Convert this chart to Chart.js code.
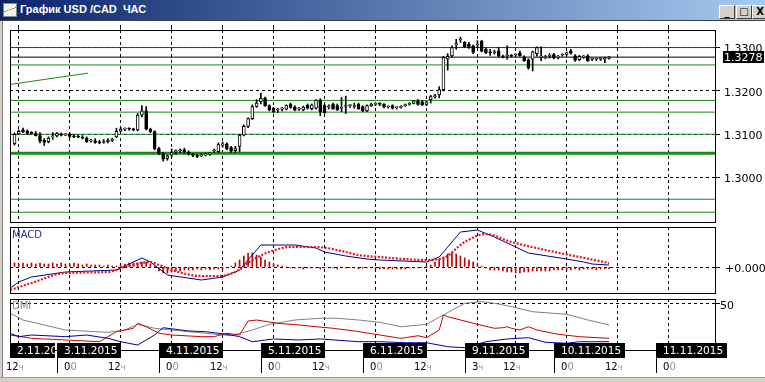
<!DOCTYPE html>
<html>
<head>
<meta charset="utf-8">
<title>График USD /CAD ЧАС</title>
<script src="https://cdn.jsdelivr.net/npm/chart.js@4.4.1/dist/chart.umd.min.js"></script>
<style>
  html, body { margin: 0; padding: 0; }
  body { width: 765px; height: 382px; overflow: hidden; position: relative; background: #fff; font-family: "DejaVu Sans", sans-serif; }
  .abs { position: absolute; }
  #titlebar { left: 0; top: 0; width: 765px; height: 20px; background: linear-gradient(to right, #0a246a, #a6caf0); }
  #titleline { left: 0; top: 20px; width: 765px; height: 1px; background: #404040; }
  #icon { left: 3px; top: 3px; width: 14px; height: 14px; box-sizing: border-box; border: 1px solid #8a8a8a;
          background: linear-gradient(160deg, #f4f4ee 45%, #d04040 47%, #f4f4ee 52%); }
  #caption { left: 20px; top: 3px; color: #fff; font: bold 11px "Liberation Sans", Arial, sans-serif; white-space: pre; }
  .tbtn { top: 5px; width: 16px; height: 14px; box-sizing: border-box; background: #d4d0c8; border: 1px solid;
          border-color: #fff #404040 #404040 #fff; color: #000; font: bold 10px "DejaVu Sans"; line-height: 11px; text-align: center; }
  #lborder { left: 0; top: 21px; width: 3px; height: 361px; background: linear-gradient(to right, #d4d0c8 0 2px, #808080 2px 3px); }
  #bottomStrip { left: 0; top: 377px; width: 765px; height: 5px; background: #d4d0c8; border-top: 1px solid #a0a0a0; }
  .panelLabel { font-size: 10px; }
  .dbox { position: absolute; top: 343px; height: 15px; box-sizing: border-box; background: #000; color: #fff;
          font: 10.5px "DejaVu Sans"; line-height: 15px; padding: 0 4px 0 7px; white-space: nowrap; overflow: hidden; }
  .dsep { position: absolute; top: 343px; width: 1px; height: 30px; background: #000; }
  .tl { position: absolute; top: 361px; font: 10px "DejaVu Sans"; color: #000; white-space: nowrap; }
  .tl span { color: #909090; }
  .tl span.u { font-size: 8px; }
</style>
</head>
<body>
<div id="titlebar" class="abs"></div>
<div id="icon" class="abs"></div>
<div id="caption" class="abs">График USD /CAD  ЧАС</div>
<div class="abs tbtn" style="left:719px">_</div>
<div class="abs tbtn" style="left:736px">□</div>
<div class="abs tbtn" style="left:752px">X</div>
<div id="titleline" class="abs"></div>

<canvas id="mainChart" class="abs" style="left:0;top:22px" width="765" height="203"></canvas>
<canvas id="macdChart" class="abs" style="left:0;top:225px" width="765" height="70"></canvas>
<canvas id="dmiChart" class="abs" style="left:0;top:296px" width="765" height="56"></canvas>

<div class="abs panelLabel" style="left:12px;top:229px;color:#2b2b8f">MACD</div>
<div class="abs panelLabel" style="left:12px;top:300px;color:#8a8a8a">DMI</div>

<div id="lborder" class="abs"></div>
<div id="bottomStrip" class="abs"></div>

<script>
// hourly candles, first one is 2.11 14:00 (hour -10, hour 0 = 3.11 00:00, trading hours only)
const firstHour = -10;

const open = [
  1.3078, 1.3101, 1.3110, 1.3107, 1.3103, 1.3102, 1.3097, 1.3086, 1.3083, 1.3094,
  1.3096, 1.3101, 1.3098, 1.3100, 1.3096, 1.3095, 1.3093, 1.3091, 1.3084, 1.3085,
  1.3082, 1.3081, 1.3083, 1.3086, 1.3094, 1.3107, 1.3112, 1.3113, 1.3112, 1.3110,
  1.3144, 1.3154, 1.3112, 1.3106, 1.3067, 1.3055, 1.3044, 1.3052, 1.3060, 1.3062,
  1.3064, 1.3059, 1.3054, 1.3051, 1.3050, 1.3052, 1.3054, 1.3062, 1.3060, 1.3075,
  1.3078, 1.3069, 1.3062, 1.3072, 1.3098, 1.3118, 1.3136, 1.3164, 1.3175, 1.3183,
  1.3166, 1.3160, 1.3156, 1.3158, 1.3158, 1.3169, 1.3163, 1.3158, 1.3156, 1.3167,
  1.3159, 1.3160, 1.3179, 1.3166, 1.3163, 1.3169, 1.3166, 1.3160, 1.3164, 1.3166,
  1.3164, 1.3169, 1.3164, 1.3154, 1.3166, 1.3169, 1.3170, 1.3169, 1.3163, 1.3166,
  1.3161, 1.3162, 1.3166, 1.3169, 1.3171, 1.3177, 1.3175, 1.3169, 1.3180, 1.3187,
  1.3191, 1.3203, 1.3274, 1.3281, 1.3306, 1.3318, 1.3312, 1.3308, 1.3304, 1.3306,
  1.3315, 1.3296, 1.3289, 1.3288, 1.3292, 1.3279, 1.3280, 1.3281, 1.3283, 1.3288,
  1.3278, 1.3272, 1.3273, 1.3286, 1.3278, 1.3277, 1.3280, 1.3284, 1.3278, 1.3283,
  1.3284, 1.3292, 1.3281, 1.3272, 1.3278, 1.3281, 1.3273, 1.3273, 1.3273, 1.3273,
  1.3275
];
const high = [
  1.3103, 1.3110, 1.3114, 1.3110, 1.3106, 1.3106, 1.3104, 1.3090, 1.3094, 1.3104,
  1.3104, 1.3103, 1.3102, 1.3103, 1.3099, 1.3098, 1.3097, 1.3094, 1.3088, 1.3090,
  1.3086, 1.3088, 1.3090, 1.3091, 1.3114, 1.3116, 1.3115, 1.3115, 1.3114, 1.3148,
  1.3166, 1.3164, 1.3114, 1.3108, 1.3070, 1.3058, 1.3052, 1.3066, 1.3064, 1.3066,
  1.3068, 1.3062, 1.3056, 1.3054, 1.3055, 1.3057, 1.3058, 1.3066, 1.3080, 1.3082,
  1.3080, 1.3072, 1.3072, 1.3100, 1.3122, 1.3138, 1.3168, 1.3180, 1.3195, 1.3186,
  1.3168, 1.3162, 1.3160, 1.3162, 1.3168, 1.3172, 1.3166, 1.3162, 1.3165, 1.3170,
  1.3170, 1.3180, 1.3182, 1.3170, 1.3168, 1.3172, 1.3170, 1.3185, 1.3188, 1.3168,
  1.3172, 1.3172, 1.3166, 1.3168, 1.3172, 1.3172, 1.3173, 1.3171, 1.3166, 1.3168,
  1.3164, 1.3166, 1.3170, 1.3173, 1.3178, 1.3180, 1.3178, 1.3176, 1.3190, 1.3192,
  1.3210, 1.3280, 1.3286, 1.3304, 1.3319, 1.3324, 1.3314, 1.3312, 1.3306, 1.3316,
  1.3317, 1.3299, 1.3296, 1.3294, 1.3300, 1.3283, 1.3304, 1.3284, 1.3286, 1.3292,
  1.3281, 1.3274, 1.3292, 1.3302, 1.3302, 1.3282, 1.3286, 1.3287, 1.3282, 1.3286,
  1.3290, 1.3296, 1.3284, 1.3282, 1.3282, 1.3284, 1.3276, 1.3276, 1.3277, 1.3278,
  1.3280
];
const low = [
  1.3075, 1.3099, 1.3104, 1.3099, 1.3100, 1.3096, 1.3080, 1.3074, 1.3080, 1.3088,
  1.3094, 1.3096, 1.3097, 1.3092, 1.3092, 1.3092, 1.3089, 1.3081, 1.3082, 1.3079,
  1.3078, 1.3079, 1.3080, 1.3083, 1.3092, 1.3105, 1.3108, 1.3109, 1.3108, 1.3108,
  1.3140, 1.3110, 1.3104, 1.3064, 1.3053, 1.3038, 1.3040, 1.3048, 1.3054, 1.3058,
  1.3056, 1.3052, 1.3048, 1.3046, 1.3048, 1.3050, 1.3051, 1.3058, 1.3058, 1.3070,
  1.3064, 1.3058, 1.3058, 1.3060, 1.3096, 1.3115, 1.3134, 1.3162, 1.3170, 1.3164,
  1.3154, 1.3150, 1.3150, 1.3154, 1.3156, 1.3160, 1.3154, 1.3155, 1.3154, 1.3158,
  1.3156, 1.3158, 1.3143, 1.3148, 1.3158, 1.3158, 1.3155, 1.3152, 1.3148, 1.3162,
  1.3160, 1.3158, 1.3152, 1.3152, 1.3164, 1.3166, 1.3166, 1.3161, 1.3160, 1.3158,
  1.3158, 1.3160, 1.3164, 1.3167, 1.3170, 1.3167, 1.3166, 1.3166, 1.3172, 1.3183,
  1.3184, 1.3200, 1.3248, 1.3278, 1.3296, 1.3312, 1.3300, 1.3298, 1.3286, 1.3300,
  1.3290, 1.3286, 1.3282, 1.3285, 1.3278, 1.3276, 1.3273, 1.3278, 1.3280, 1.3280,
  1.3268, 1.3250, 1.3246, 1.3280, 1.3270, 1.3274, 1.3276, 1.3274, 1.3274, 1.3280,
  1.3282, 1.3285, 1.3268, 1.3270, 1.3275, 1.3268, 1.3270, 1.3270, 1.3270, 1.3265,
  1.3273
];
const close = [
  1.3100, 1.3107, 1.3106, 1.3102, 1.3102, 1.3097, 1.3084, 1.3082, 1.3091, 1.3095,
  1.3102, 1.3098, 1.3100, 1.3095, 1.3094, 1.3093, 1.3091, 1.3083, 1.3085, 1.3081,
  1.3080, 1.3083, 1.3086, 1.3088, 1.3107, 1.3112, 1.3113, 1.3112, 1.3110, 1.3144,
  1.3154, 1.3112, 1.3106, 1.3067, 1.3056, 1.3043, 1.3050, 1.3058, 1.3061, 1.3063,
  1.3059, 1.3054, 1.3051, 1.3049, 1.3052, 1.3054, 1.3055, 1.3063, 1.3076, 1.3078,
  1.3067, 1.3061, 1.3067, 1.3098, 1.3118, 1.3136, 1.3164, 1.3172, 1.3183, 1.3166,
  1.3156, 1.3152, 1.3156, 1.3158, 1.3166, 1.3162, 1.3156, 1.3158, 1.3163, 1.3160,
  1.3168, 1.3179, 1.3152, 1.3150, 1.3163, 1.3158, 1.3156, 1.3160, 1.3164, 1.3166,
  1.3166, 1.3158, 1.3154, 1.3166, 1.3169, 1.3170, 1.3169, 1.3163, 1.3163, 1.3160,
  1.3161, 1.3164, 1.3168, 1.3171, 1.3177, 1.3169, 1.3168, 1.3175, 1.3187, 1.3188,
  1.3203, 1.3277, 1.3280, 1.3300, 1.3309, 1.3320, 1.3302, 1.3300, 1.3289, 1.3308,
  1.3292, 1.3288, 1.3288, 1.3289, 1.3281, 1.3278, 1.3281, 1.3280, 1.3283, 1.3281,
  1.3270, 1.3253, 1.3290, 1.3300, 1.3278, 1.3277, 1.3282, 1.3276, 1.3278, 1.3283,
  1.3288, 1.3287, 1.3271, 1.3280, 1.3278, 1.3269, 1.3273, 1.3273, 1.3273, 1.3274,
  1.3278
];
const lastPrice = 1.3278;

// horizontal levels drawn on the price panel
const redLevels = [1.3300];
const blackLevels = [1.3278];
const greenLevels = [1.3260, 1.3178, 1.3151, 1.3100, 1.2950, 1.2920];
const thickGreenLevels = [1.3056];
const trendFrom = [-11.06, 1.3215];
const trendTo = [7.3, 1.3241];

// MACD panel (one histogram bar per candle, lines sampled)
const macdHist = [
  0.0004, 0.0003, 0.0004, 0.0003, 0.0004, 0.0003, 0.0004, 0.0003, 0.0003, 0.0004,
  0.0003, 0.0004, 0.0003, 0.0003, 0.0004, 0.0003, 0.0002, 0.0003, 0.0002, 0.0002,
  0.0002, 0.0001, 0.0002, 0.0001, 0.0001, 0.0002, 0.0003, 0.0004, 0.0004, 0.0004,
  0.0005, 0.0005, 0.0003, 0.0001, -0.0004, -0.0006, -0.0006, -0.0005, -0.0004, -0.0004,
  -0.0003, -0.0003, -0.0003, -0.0002, -0.0003, -0.0002, -0.0003, -0.0002, -0.0002, -0.0002,
  -0.0001, 0.0001, 0.0004, 0.0007, 0.0011, 0.0014, 0.0014, 0.0012, 0.0010, 0.0007,
  0.0005, 0.0003, 0.0002, 0.0001, 0.0000, -0.0001, -0.0001, -0.0001, -0.0002, -0.0001,
  -0.0001, -0.0001, -0.0002, -0.0001, -0.0001, -0.0001, -0.0002, -0.0001, -0.0001, -0.0001,
  -0.0001, -0.0002, -0.0001, -0.0001, -0.0001, -0.0002, -0.0002, -0.0002, -0.0002, -0.0002,
  -0.0002, -0.0002, -0.0002, -0.0001, -0.0001, -0.0001, 0.0000, 0.0001, 0.0002, 0.0005,
  0.0008, 0.0010, 0.0013, 0.0014, 0.0013, 0.0011, 0.0009, 0.0007, 0.0005, 0.0003,
  0.0001, -0.0001, -0.0003, -0.0003, -0.0003, -0.0004, -0.0005, -0.0005, -0.0006, -0.0006,
  -0.0005, -0.0005, -0.0004, -0.0004, -0.0004, -0.0004, -0.0004, -0.0003, -0.0003, -0.0003,
  -0.0003, -0.0003, -0.0002, -0.0003, -0.0002, -0.0002, -0.0002, -0.0003, -0.0002, -0.0002,
  -0.0002
];
const macdAt = [-11, -9, -6, 2, 14, 20, 22, 26, 34, 39, 43, 48, 56, 61, 63, 68, 73, 76, 87, 90, 95, 99, 103, 107, 111, 120, 124, 126, 130];
const macdLine = [-0.0021, -0.0015, -0.0010, -0.0005, -0.0003, 0.0009, 0.0005, -0.0008, -0.0013, -0.0010,
  -0.0003, 0.0022, 0.0022, 0.0019, 0.0015, 0.0011, 0.0008, 0.0007, 0.0005, 0.0010,
  0.0035, 0.0037, 0.0030, 0.0022, 0.0014, 0.0008, 0.0005, 0.0003, 0.0002];
const signalAt = [-11, -6, 2, 12, 16, 22, 24, 27, 34, 38, 42, 46, 50, 55, 61, 67, 71, 76, 87, 91, 96, 101, 107, 115, 123, 130];
const signalLine = [-0.0023, -0.0016, -0.0006, -0.0005, 0.0000, 0.0005, 0.0002, -0.0003, -0.0009, -0.0009,
  -0.0005, 0.0007, 0.0015, 0.0020, 0.0020, 0.0016, 0.0012, 0.0010, 0.0007, 0.0009,
  0.0025, 0.0033, 0.0025, 0.0017, 0.0010, 0.0004];

// DMI panel
const adxAt = [-11, -8, -3, 2, 12, 16, 19, 23, 27, 35, 41, 46, 50, 56, 62, 66, 71, 76, 81, 87, 91, 96, 100, 103, 107, 112, 120, 125, 130];
const adx = [39.9, 32.6, 27.2, 21.7, 19.2, 21.7, 27.9, 23.6, 21.7, 18.2, 15.5, 21.7, 27.9, 32.6, 34.5,
  34.5, 32.6, 30.1, 25.3, 27.9, 38.0, 50.8, 52.5, 50.8, 47.1, 41.6, 38.8, 32.6, 27.2];
const plusAt = [-11, -6, 2, 10, 14, 16, 18, 19, 21, 24, 27, 34, 37, 40, 43, 45, 47, 52, 57, 61,
  65, 70, 76, 81, 85, 87, 90, 91, 92, 99, 103, 105, 106, 107, 109, 111, 113, 118, 123, 130];
const plusDI = [16.3, 12.7, 10.9, 9.0, 19.9, 21.7, 23.6, 29.0, 25.3, 18.2, 16.3, 14.5, 14.5, 18.2, 16.3,
  31.5, 32.6, 29.0, 27.2, 25.3, 23.6, 20.7, 16.3, 12.7, 15.5, 13.4, 21.7, 38.0, 36.2, 27.9,
  23.6, 24.2, 25.3, 23.6, 21.7, 25.3, 21.7, 17.1, 14.5, 12.7];
const minusAt = [-11, -9, -6, 2, 7, 12, 15, 19, 23, 25, 31, 35, 40, 43, 46, 51, 57, 62, 71, 76,
  82, 87, 92, 96, 101, 106, 111, 115, 120, 123, 130];
const minusDI = [18.2, 14.5, 16.3, 14.5, 16.3, 12.7, 9.0, 5.4, 16.3, 24.2, 20.7, 19.9, 17.1, 14.5, 9.0,
  12.0, 10.9, 12.0, 9.0, 9.0, 7.9, 7.9, 3.6, 2.5, 9.0, 12.0, 13.4, 8.4, 7.3, 9.0, 9.0];

// axes
const gridHours = [-9, 3, 15, 27, 39, 51, 63, 75, 87, 99, 108, 120, 132, 144];
const priceTicks = [1.30, 1.31, 1.32, 1.33];
const dayStarts = [-24, 0, 24, 48, 72, 96, 117, 141];
const dayLabels = ['2.11.2015', '3.11.2015', '4.11.2015', '5.11.2015', '6.11.2015', '9.11.2015', '10.11.2015', '11.11.2015'];
const timeAt = [-12, 0, 12, 24, 36, 48, 60, 72, 84, 96, 105, 117, 129, 141];
const timeText = ['12ч', '00', '12ч', '00', '12ч', '00', '12ч', '00', '12ч', '3ч', '12ч', '00', '12ч', '00'];

const X_MIN = -11.06, X_MAX = 154.94;

Chart.defaults.font.family = 'DejaVu Sans';
Chart.defaults.animation = false;

const hours = open.map((_, i) => firstHour + i);
const pts = (xs, ys) => xs.map((x, i) => ({ x: x, y: ys[i] }));

function levelLine(price, color, width) {
  return {
    type: 'line', order: 3, data: [{ x: X_MIN, y: price }, { x: X_MAX, y: price }],
    borderColor: color, borderWidth: width, pointRadius: 0
  };
}

const framePlugin = {
  id: 'frame',
  afterDatasetsDraw(chart) {
    const { ctx, chartArea: a } = chart;
    ctx.save();
    ctx.strokeStyle = '#000';
    ctx.lineWidth = 1;
    ctx.strokeRect(Math.round(a.left) + 0.5, Math.round(a.top) + 0.5, Math.round(a.right - a.left), Math.round(a.bottom - a.top));
    ctx.restore();
  }
};

const lastPricePlugin = {
  id: 'lastPrice',
  afterDraw(chart) {
    const s = chart.scales.y;
    const y = Math.round(s.getPixelForValue(lastPrice));
    const ctx = chart.ctx;
    ctx.save();
    ctx.fillStyle = '#000';
    ctx.fillRect(s.left + 8, y - 6, 41, 12);
    ctx.fillStyle = '#fff';
    ctx.font = '11px "DejaVu Sans"';
    ctx.textBaseline = 'middle';
    ctx.fillText(lastPrice.toFixed(4), s.left + 9, y + 1);
    ctx.restore();
  }
};

function xScale(onTop) {
  return {
    type: 'linear', min: X_MIN, max: X_MAX, offset: false,
    position: onTop ? 'top' : 'bottom',
    ticks: { display: false },
    grid: { color: '#000', lineWidth: 1, offset: false, drawTicks: onTop, tickLength: 5 },
    border: { display: false, dash: [3, 3] },
    afterBuildTicks: s => { s.ticks = gridHours.map(v => ({ value: v })); },
    afterFit: s => {
      s.height = onTop ? 5 : 0;
      s.paddingLeft = 0; s.paddingRight = 0; s.paddingTop = 0; s.paddingBottom = 0;
    }
  };
}

function yScale(min, max, ticks, fmt, padding) {
  return {
    position: 'right', min: min, max: max,
    afterBuildTicks: s => { s.ticks = ticks.map(v => ({ value: v })); },
    afterFit: s => {
      s.width = 50;
      s.paddingTop = 0; s.paddingBottom = 0; s.paddingLeft = 0; s.paddingRight = 0;
    },
    ticks: { color: '#000', font: { size: 11 }, padding: padding, labelOffset: 2, callback: fmt },
    grid: { color: '#000', lineWidth: 1, tickLength: 5 },
    border: { display: false, dash: [3, 3] }
  };
}

const common = {
  responsive: false,
  devicePixelRatio: 1,
  events: [],
  plugins: { legend: { display: false }, tooltip: { enabled: false } }
};

// price panel
const mainDatasets = [
  {
    type: 'bar', order: 1, grouped: false, barThickness: 3, minBarLength: 1,
    data: hours.map((h, i) => ({ x: h, y: [open[i], close[i]] })),
    backgroundColor: c => close[c.dataIndex] >= open[c.dataIndex] ? '#fff' : '#000',
    borderColor: '#000', borderWidth: 1, borderSkipped: false
  },
  {
    type: 'bar', order: 2, grouped: false, barThickness: 1, minBarLength: 1,
    data: hours.map((h, i) => ({ x: h, y: [low[i], high[i]] })),
    backgroundColor: '#000', borderWidth: 0
  },
  {
    type: 'line', order: 3, data: [{ x: trendFrom[0], y: trendFrom[1] }, { x: trendTo[0], y: trendTo[1] }],
    borderColor: '#1a8a1a', borderWidth: 1, pointRadius: 0
  }
];
redLevels.forEach(p => mainDatasets.push(levelLine(p, '#c00000', 1)));
blackLevels.forEach(p => mainDatasets.push(levelLine(p, '#000', 1)));
greenLevels.forEach(p => mainDatasets.push(levelLine(p, '#1a8a1a', 1)));
thickGreenLevels.forEach(p => mainDatasets.push(levelLine(p, '#1a8a1a', 3)));

new Chart(document.getElementById('mainChart'), {
  type: 'bar',
  data: { datasets: mainDatasets },
  options: Object.assign({}, common, {
    layout: { padding: { left: 10, right: 0, top: 3, bottom: 3 } },
    scales: {
      x: xScale(true),
      y: yScale(1.28975, 1.33406, priceTicks, v => v.toFixed(4), 4)
    }
  }),
  plugins: [framePlugin, lastPricePlugin]
});

// MACD panel
new Chart(document.getElementById('macdChart'), {
  type: 'bar',
  data: {
    datasets: [
      {
        type: 'line', order: 1, data: pts(signalAt, signalLine),
        borderColor: '#ee1111', borderWidth: 2.2, borderDash: [2, 1.6], borderCapStyle: 'butt',
        pointRadius: 0, cubicInterpolationMode: 'monotone'
      },
      {
        type: 'line', order: 2, data: pts(macdAt, macdLine),
        borderColor: '#000080', borderWidth: 1, pointRadius: 0, tension: 0
      },
      {
        type: 'bar', order: 3, grouped: false, barThickness: 1,
        data: hours.map((h, i) => ({ x: h, y: macdHist[i] })),
        backgroundColor: '#c00000', borderWidth: 0
      }
    ]
  },
  options: Object.assign({}, common, {
    layout: { padding: { left: 10, right: 0, top: 2, bottom: 2 } },
    scales: {
      x: xScale(false),
      y: yScale(-0.0026, 0.0040, [0], () => '+0.000', 5)
    }
  }),
  plugins: [framePlugin]
});

// DMI panel
const dmiChart = new Chart(document.getElementById('dmiChart'), {
  type: 'line',
  data: {
    datasets: [
      { data: pts(minusAt, minusDI), borderColor: '#0000a0', borderWidth: 1, pointRadius: 0 },
      { data: pts(plusAt, plusDI), borderColor: '#cc0000', borderWidth: 1, pointRadius: 0 },
      { data: pts(adxAt, adx), borderColor: '#808080', borderWidth: 1, pointRadius: 0 }
    ]
  },
  options: Object.assign({}, common, {
    layout: { padding: { left: 10, right: 0, top: 3, bottom: 2 } },
    scales: {
      x: xScale(false),
      y: yScale(0, 55.43, [50], v => String(v), 0)
    }
  }),
  plugins: [framePlugin]
});

// date boxes and hour labels under the DMI panel, placed with the panel's time scale
const xs = dmiChart.scales.x;
const areaLeft = Math.round(dmiChart.chartArea.left);
const dayPx = dayStarts.map(h => Math.round(xs.getPixelForValue(h)));

dayStarts.forEach((h, i) => {
  const left = Math.max(dayPx[i], areaLeft);
  const box = document.createElement('div');
  box.className = 'dbox';
  box.style.left = left + 'px';
  if (i + 1 < dayPx.length && dayPx[i] < areaLeft) {
    box.style.width = (dayPx[i + 1] - 2 - left) + 'px';
  }
  box.textContent = dayLabels[i];
  document.body.appendChild(box);
  if (dayPx[i] >= areaLeft) {
    const sep = document.createElement('div');
    sep.className = 'dsep';
    sep.style.left = dayPx[i] + 'px';
    document.body.appendChild(sep);
  }
});

timeAt.forEach((h, i) => {
  const isDay = dayStarts.includes(h);
  const el = document.createElement('div');
  el.className = 'tl';
  el.style.left = (Math.round(xs.getPixelForValue(h)) + (isDay ? 7 : 0)) + 'px';
  const t = timeText[i];
  if (t.endsWith('ч')) {
    el.innerHTML = t.slice(0, -1) + '<span class="u">ч</span>';
  } else {
    el.innerHTML = t.slice(0, 1) + '<span>' + t.slice(1) + '</span>';
  }
  document.body.appendChild(el);
});
</script>
</body>
</html>
